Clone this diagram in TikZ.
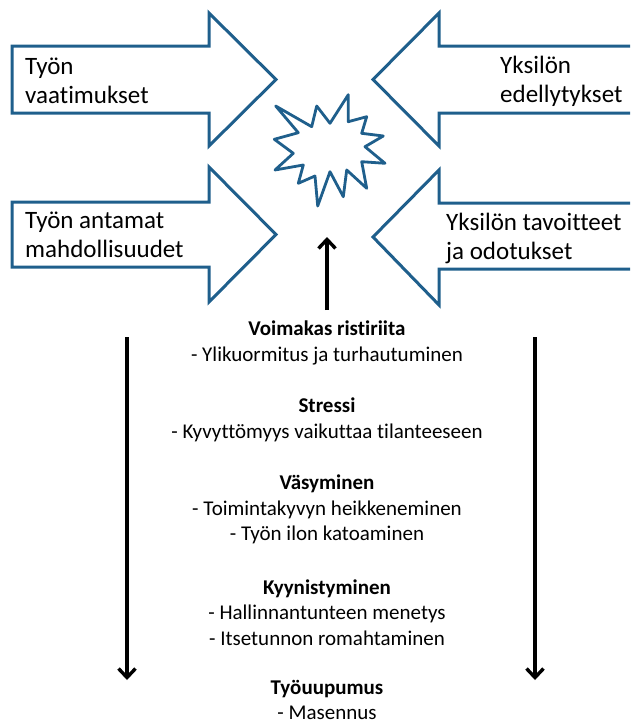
\documentclass[tikz,border=0pt]{standalone}
\usepackage{fontspec}
\setmainfont{Carlito}[Ligatures=NoCommon]
\usetikzlibrary{arrows.meta,positioning}
\definecolor{Outline}{HTML}{1F5F8C}
\tikzset{
blockarrow/.style= {draw=Outline, line width=3pt, fill=white, line join=miter},
blocktext/.style= {align=left, anchor=west, inner sep=0pt, font=\fontsize{25}{29}\selectfont},
stage/.style= {align=center, inner sep=0pt, font=\fontsize{21}{25.5}\selectfont},
flow/.style= {line width=3.4pt, -{Straight Barb[length=9pt,width=17pt]}}
}

\begin{document}
\begin{tikzpicture}[x=1pt,y=-1pt]
\clip (0,0) rectangle (630,723);

% vaikuttavat tekijat
\draw[blockarrow] (12,46) -- (209,46) -- (209,13) -- (276,79.5) -- (209,146) -- (209,113) -- (12,113) -- cycle;
\draw[blockarrow] (12,202) -- (209,202) -- (209,167) -- (276,234.5) -- (209,302) -- (209,267) -- (12,267) -- cycle;
\draw[blockarrow] (645,46) -- (439,46) -- (439,13) -- (373,79.5) -- (439,146) -- (439,113) -- (645,113);
\draw[blockarrow] (645,203) -- (439,203) -- (439,170) -- (373,237) -- (439,305) -- (439,269) -- (645,269);

\node[blocktext] (vaatimukset) at (25,81) {Työn\\vaatimukset};
\node[blocktext] (mahdollisuudet) at (25,235) {Työn antamat\\mahdollisuudet};
\node[blocktext] (edellytykset) at (500,81) {Yksilön\\edellytykset};
\node[blocktext] (tavoitteet) at (446,238) {Yksilön tavoitteet\\ja odotukset};

% ristiriita
\draw[blockarrow, line width=2.8pt, line join=round]
  (275.7,106) -- (311.7,126.7) -- (316.7,106) -- (330,123.3) -- (348.3,94.7)
  -- (348.3,121.7) -- (366.7,116.7) -- (361.7,133.3) -- (383.3,136) -- (365,146.7)
  -- (385,163.3) -- (361.7,161.7) -- (366.7,188.3) -- (346.7,170) -- (343.3,196.7)
  -- (330,171.7) -- (317.7,206) -- (315,176) -- (298.3,183.3) -- (303.3,165)
  -- (275,170) -- (293.3,153.3) -- (274.3,139.3) -- (298.3,132.7) -- cycle;
\coordinate (burst) at (327,237);

% vaiheet
\node[stage] (s1) at (327,343) {\textbf{Voimakas ristiriita}\\- Ylikuormitus ja turhautuminen};
\node[stage] (s2) at (327,420) {\textbf{Stressi}\\- Kyvyttömyys vaikuttaa tilanteeseen};
\node[stage] (s3) at (327,509.5) {\textbf{Väsyminen}\\- Toimintakyvyn heikkeneminen\\- Työn ilon katoaminen};
\node[stage] (s4) at (327,612.5) {\textbf{Kyynistyminen}\\- Hallinnantunteen menetys\\- Itsetunnon romahtaminen};
\node[stage] (s5) at (327,700) {\textbf{Työuupumus}\\- Masennus};

\coordinate (up) at (327,310);
\coordinate (l1) at (127,337);
\coordinate (l2) at (127,680);
\coordinate (r1) at (535,337);
\coordinate (r2) at (535,680);

\draw[flow] (up) -- (burst);
\draw[flow] (l1) -- (l2);
\draw[flow] (r1) -- (r2);
\end{tikzpicture}
\end{document}
